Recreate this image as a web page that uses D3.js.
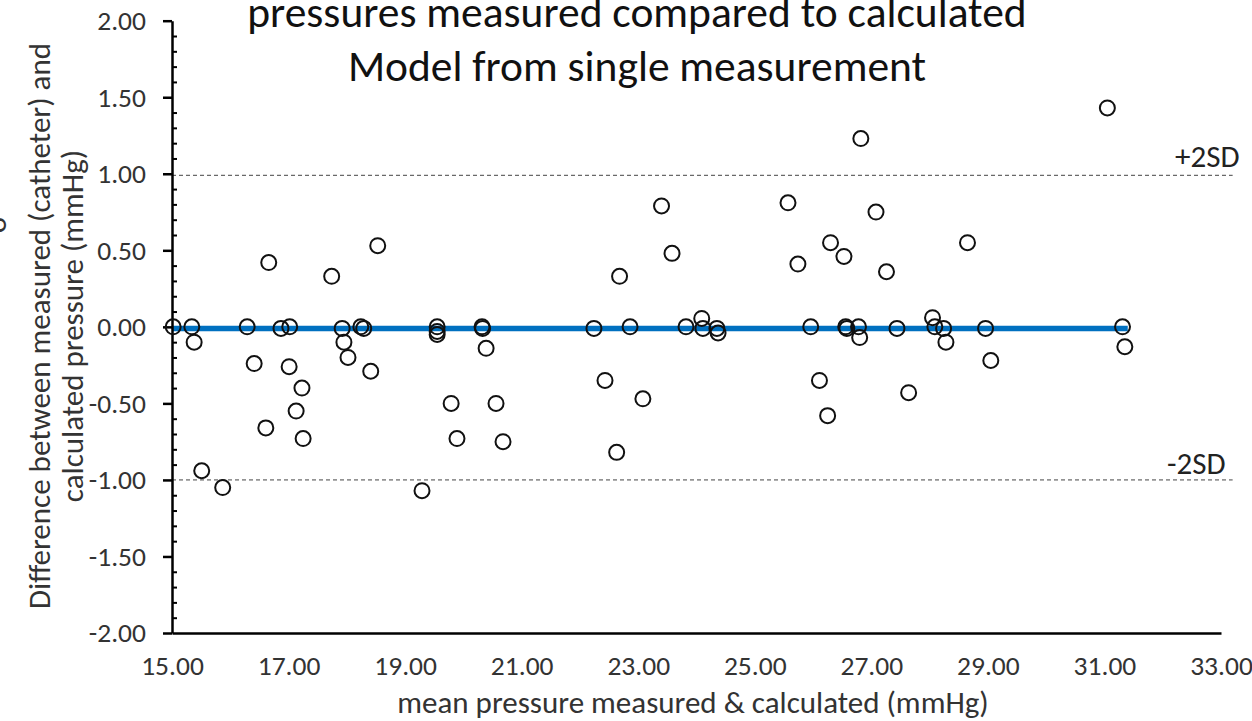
<!DOCTYPE html>
<meta charset="utf-8">
<head>
<title>Bland-Altman plot</title>
</head>
<style>
body { margin: 0; background: #fff; }
text { font-family: Carlito, Calibri, "Open Sans", sans-serif; }
</style>
<body>
<svg width="1252" height="721"></svg>
<script src="https://d3js.org/d3.v7.min.js"></script>
<script>

// mean of measured & calculated (x) and their difference (y)
var meanVals = [15.02, 15.34, 15.38, 15.51, 15.87, 16.29, 16.41, 16.66, 16.61, 16.87,
  17.02, 17.01, 17.23, 17.13, 17.25, 17.74, 17.92, 17.95, 18.02, 18.24,
  18.29, 18.41, 18.53, 19.29, 19.55, 19.55, 19.55, 19.79, 19.89, 20.32,
  20.33, 20.39, 20.56, 20.68, 22.24, 22.43, 22.68, 22.63, 22.86, 23.08,
  23.40, 23.58, 23.82, 24.09, 24.11, 24.35, 24.37, 25.57, 25.74, 25.96,
  26.11, 26.30, 26.25, 26.53, 26.56, 26.58, 26.78, 26.80, 26.82, 27.08,
  27.26, 27.44, 27.64, 28.05, 28.09, 28.24, 28.28, 28.65, 28.96, 29.05,
  31.05, 31.31, 31.35];
var diffVals = [0.00, 0.00, -0.10, -0.94, -1.05, 0.00, -0.24, 0.42, -0.66, -0.01,
  0.00, -0.26, -0.40, -0.55, -0.73, 0.33, -0.01, -0.10, -0.20, 0.00,
  -0.01, -0.29, 0.53, -1.07, 0.00, -0.03, -0.05, -0.50, -0.73, 0.00,
  -0.01, -0.14, -0.50, -0.75, -0.01, -0.35, 0.33, -0.82, 0.00, -0.47,
  0.79, 0.48, 0.00, 0.055, -0.01, -0.01, -0.04, 0.81, 0.41, 0.00,
  -0.35, 0.55, -0.58, 0.46, 0.00, -0.01, 0.00, -0.07, 1.23, 0.75,
  0.36, -0.01, -0.43, 0.06, 0.00, -0.01, -0.10, 0.55, -0.01, -0.22,
  1.43, 0.00, -0.13];

var meanDiff = -0.01;
var meanLineEnd = 31.4;
var plus2SD = 0.99;
var minus2SD = -1.00;
var sdLineEnd = 33.2;

var xTicks = [15, 17, 19, 21, 23, 25, 27, 29, 31, 33];
var yTicks = [-2, -1.5, -1, -0.5, 0, 0.5, 1, 1.5, 2];
var yMinorTicks = [-1.9, -1.8, -1.7, -1.6, -1.4, -1.3, -1.2, -1.1, -0.9, -0.8, -0.7, -0.6,
  -0.4, -0.3, -0.2, -0.1, 0.1, 0.2, 0.3, 0.4, 0.6, 0.7, 0.8, 0.9,
  1.1, 1.2, 1.3, 1.4, 1.6, 1.7, 1.8, 1.9];

var titleLines = ['pressures measured compared to calculated', 'Model from single measurement'];
var yTitleLines = ['Difference between measured (catheter) and', 'calculated pressure (mmHg)'];
var xTitle = 'mean pressure measured & calculated (mmHg)';

var points = meanVals.map(function(m, i) { return {m: m, d: diffVals[i]}; });

var svg = d3.select('svg');
// excel style: plain hyphen for negatives
var fmt = function(d) { return d3.format('.2f')(d).replace('\u2212', '-'); };

var x = d3.scaleLinear().domain([15, 33]).range([172, 1221]);
var y = d3.scaleLinear().domain([-2, 2]).range([633, 20.7]);

// title (top cut off like the picture)
svg.selectAll('.title')
  .data(titleLines)
  .enter().append('text')
  .attr('class', 'title')
  .attr('x', 637)
  .attr('y', function(d, i) { return 27 + i * 54; })
  .attr('text-anchor', 'middle')
  .style('font-size', '43.5px')
  .style('fill', '#111')
  .text(function(d) { return d; });

// +-2SD dashed lines
svg.selectAll('.sd')
  .data([plus2SD, minus2SD])
  .enter().append('line')
  .attr('class', 'sd')
  .attr('x1', x(15)).attr('x2', x(sdLineEnd))
  .attr('y1', function(d) { return y(d); })
  .attr('y2', function(d) { return y(d); })
  .style('stroke', '#444')
  .style('stroke-width', 1)
  .style('stroke-dasharray', '4,3');

svg.append('text')
  .attr('x', 1175).attr('y', 167)
  .style('font-size', '31px').style('fill', '#222')
  .text('+2SD');
svg.append('text')
  .attr('x', 1167).attr('y', 474)
  .style('font-size', '31px').style('fill', '#222')
  .text('-2SD');

// mean difference
svg.append('line')
  .attr('x1', x(15)).attr('x2', x(meanLineEnd))
  .attr('y1', y(meanDiff)).attr('y2', y(meanDiff))
  .style('stroke', '#0070C0')
  .style('stroke-width', 5.5);

// y axis
var yAxis = svg.append('g')
  .attr('transform', 'translate(' + x(15) + ',0)')
  .call(d3.axisLeft(y).tickValues(yTicks).tickSize(9).tickSizeOuter(0)
    .tickPadding(17).tickFormat(fmt));
svg.append('g')
  .attr('transform', 'translate(' + x(15) + ',0)')
  .call(d3.axisRight(y).tickValues(yMinorTicks).tickSize(5).tickSizeOuter(0)
    .tickFormat(''))
  .call(function(g) { g.select('.domain').remove(); })
  .selectAll('line').style('stroke', '#000').style('stroke-width', 2);

// x axis
var xAxis = svg.append('g')
  .attr('transform', 'translate(0,' + y(-2) + ')')
  .call(d3.axisBottom(x).tickValues(xTicks).tickSize(0).tickSizeOuter(0)
    .tickPadding(22).tickFormat(fmt));

[yAxis, xAxis].forEach(function(g) {
  g.select('.domain').style('stroke', '#000').style('stroke-width', 2.5);
  g.selectAll('.tick line').style('stroke', '#000').style('stroke-width', 2.5);
  g.selectAll('.tick text')
    .style('font-family', 'Carlito, Calibri, "Open Sans", sans-serif')
    .style('font-size', '27.5px').style('fill', '#333');
});

// points
svg.selectAll('.pt')
  .data(points)
  .enter().append('circle')
  .attr('class', 'pt')
  .attr('cx', function(d) { return x(d.m); })
  .attr('cy', function(d) { return y(d.d); })
  .attr('r', 7.5)
  .style('fill', 'none')
  .style('stroke', '#111')
  .style('stroke-width', 2);

// axis titles
svg.selectAll('.ytitle')
  .data(yTitleLines)
  .enter().append('text')
  .attr('class', 'ytitle')
  .attr('transform', function(d, i) { return 'translate(' + (50 + i * 33) + ',326) rotate(-90)'; })
  .attr('text-anchor', 'middle')
  .style('font-size', '31px').style('fill', '#333')
  .text(function(d) { return d; });

// bit of a cut off label at the left edge
svg.append('text')
  .attr('transform', 'translate(6,225) rotate(-90)')
  .attr('text-anchor', 'middle')
  .style('font-size', '31px').style('fill', '#333')
  .text('o');

svg.append('text')
  .attr('x', 693).attr('y', 713)
  .attr('text-anchor', 'middle')
  .style('font-size', '31px').style('fill', '#333')
  .text(xTitle);

</script>
</body>
</html>
